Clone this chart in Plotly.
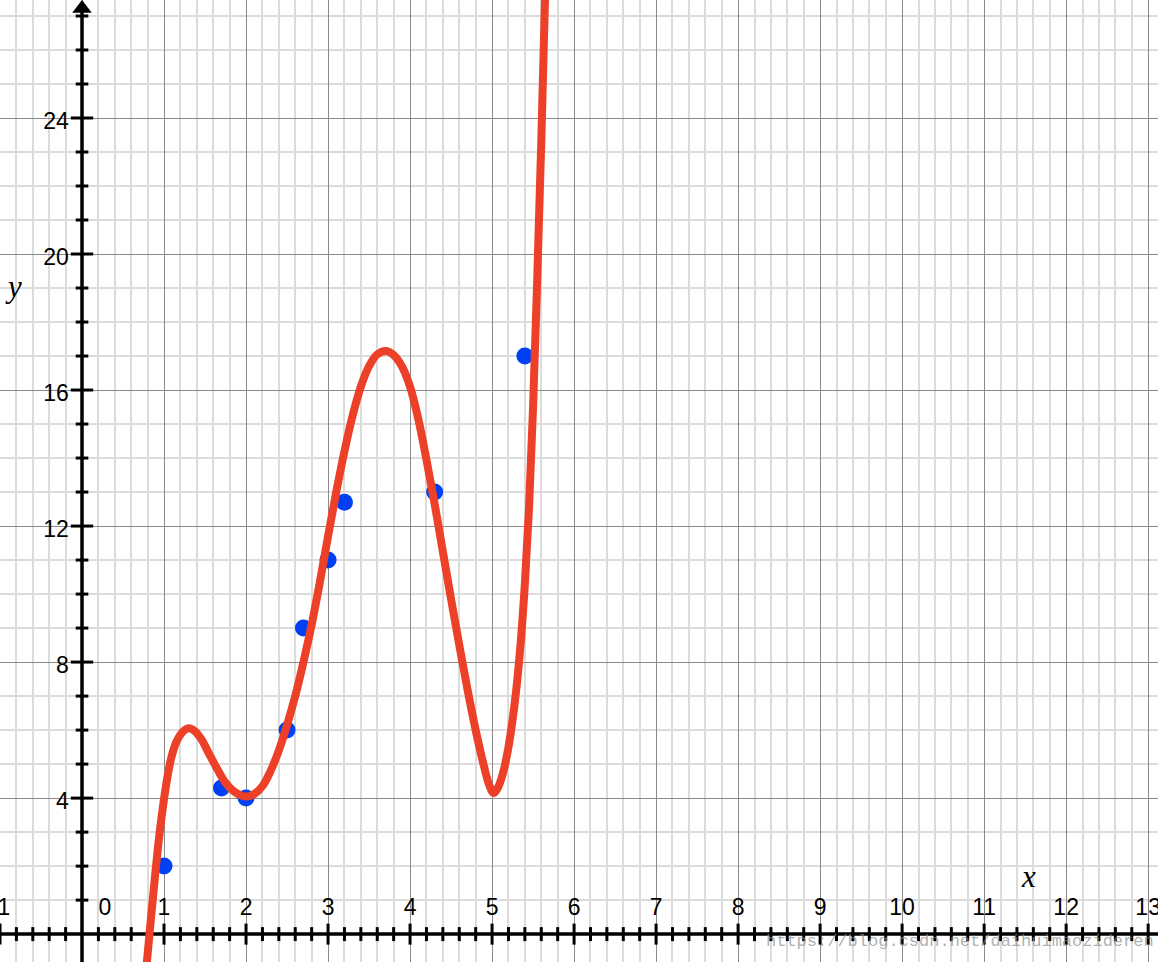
import plotly.graph_objects as go

# ---- data ----
pts_x = [1.0, 1.7, 2.0, 2.5, 2.7, 3.0, 3.2, 4.3, 5.4]
pts_y = [2.0, 4.3, 4.0, 6.0, 9.0, 11.0, 12.7, 13.0, 17.0]

curve_x = [0.79, 0.84, 0.89, 0.94, 0.99, 1.04, 1.09, 1.15, 1.22, 1.29,
           1.36, 1.45, 1.55, 1.65, 1.75, 1.85, 1.95, 2.02, 2.10, 2.20,
           2.30, 2.40, 2.50, 2.60, 2.70, 2.80, 2.90, 3.00, 3.10, 3.20,
           3.30, 3.40, 3.50, 3.60, 3.71, 3.80, 3.90, 4.00, 4.10, 4.20,
           4.30, 4.40, 4.50, 4.60, 4.70, 4.80, 4.90, 4.97, 5.02, 5.08,
           5.14, 5.20, 5.25, 5.30, 5.35, 5.40, 5.45, 5.50, 5.55, 5.60, 5.65]
curve_y = [-0.85, 0.45, 1.7, 2.85, 3.8, 4.6, 5.2, 5.65, 5.93, 6.05,
           6.0, 5.75, 5.3, 4.85, 4.45, 4.2, 4.07, 4.05, 4.12, 4.35,
           4.8, 5.4, 6.15, 7.0, 8.0, 9.1, 10.35, 11.7, 13.0, 14.2,
           15.25, 16.1, 16.7, 17.05, 17.15, 17.03, 16.7, 16.1, 15.15, 13.95,
           12.65, 11.25, 9.85, 8.5, 7.2, 6.0, 4.95, 4.35, 4.15, 4.35,
           4.8, 5.5, 6.3, 7.3, 8.6, 10.3, 12.5, 15.5, 19.2, 23.3, 27.9]

x_tick_labels = [-1, 0, 1, 2, 3, 4, 5, 6, 7, 8, 9, 10, 11, 12, 13]
y_tick_labels = [4, 8, 12, 16, 20, 24]

X_RANGE = [-1.0, 13.12]
Y_RANGE = [-0.82, 27.47]

fig = go.Figure()

# axis lines
fig.add_trace(go.Scatter(x=X_RANGE, y=[0, 0], mode="lines",
                         line=dict(color="black", width=3.5), hoverinfo="skip"))
fig.add_trace(go.Scatter(x=[0, 0], y=[Y_RANGE[0], Y_RANGE[1] - 0.3], mode="lines",
                         line=dict(color="black", width=3.5), hoverinfo="skip"))

# x-axis ticks
minor_x = [i * 0.2 for i in range(-5, 66)]
minor_x = [v for v in minor_x if abs(v - round(v)) > 1e-6]
major_x = [v for v in range(-1, 14) if v != 0]
fig.add_trace(go.Scatter(x=minor_x, y=[0] * len(minor_x), mode="markers",
                         marker=dict(symbol="line-ns", size=10,
                                     line=dict(width=3, color="black")), hoverinfo="skip"))
fig.add_trace(go.Scatter(x=major_x, y=[0] * len(major_x), mode="markers",
                         marker=dict(symbol="line-ns", size=15,
                                     line=dict(width=3, color="black")), hoverinfo="skip"))
# y-axis ticks
minor_y = [v for v in range(1, 28) if v % 4 != 0]
major_y = [v for v in range(4, 28, 4)]
fig.add_trace(go.Scatter(x=[0] * len(minor_y), y=minor_y, mode="markers",
                         marker=dict(symbol="line-ew", size=9,
                                     line=dict(width=3, color="black")), hoverinfo="skip"))
fig.add_trace(go.Scatter(x=[0] * len(major_y), y=major_y, mode="markers",
                         marker=dict(symbol="line-ew", size=16,
                                     line=dict(width=3, color="black")), hoverinfo="skip"))
# arrow head on y axis
fig.add_trace(go.Scatter(x=[0], y=[Y_RANGE[1] - 0.25], mode="markers",
                         marker=dict(symbol="triangle-up", size=17, color="black",
                                     line=dict(width=0)), hoverinfo="skip"))

# tick labels
xl_pos = [v if v != 0 else 0.28 for v in x_tick_labels]
fig.add_trace(go.Scatter(x=xl_pos, y=[0.72] * len(x_tick_labels), mode="text",
                         text=[str(v) for v in x_tick_labels], textposition="middle center",
                         textfont=dict(family="Liberation Sans, Arial", size=23, color="black"),
                         cliponaxis=False, hoverinfo="skip"))
fig.add_trace(go.Scatter(x=[-0.16] * len(y_tick_labels), y=[v - 0.15 for v in y_tick_labels],
                         mode="text", text=[str(v) for v in y_tick_labels],
                         textposition="middle left",
                         textfont=dict(family="Liberation Sans, Arial", size=23, color="black"),
                         hoverinfo="skip"))

# data points
fig.add_trace(go.Scatter(x=pts_x, y=pts_y, mode="markers",
                         marker=dict(size=17, color="#0040F5", line=dict(width=0)),
                         hoverinfo="skip"))
# fitted curve
fig.add_trace(go.Scatter(x=curve_x, y=curve_y, mode="lines",
                         line=dict(color="#EC4128", width=8, shape="spline", smoothing=1.0),
                         hoverinfo="skip"))

fig.add_annotation(x=11.54, y=1.7, text="<i>x</i>", showarrow=False,
                   font=dict(family="Liberation Serif, Times New Roman", size=31, color="black"))
fig.add_annotation(x=-0.83, y=19.05, text="<i>y</i>", showarrow=False,
                   font=dict(family="Liberation Serif, Times New Roman", size=31, color="black"))
fig.add_annotation(xref="paper", yref="y", x=0.998, y=-0.22, xanchor="right",
                   text="https://blog.csdn.net/daihuimaozideren", showarrow=False,
                   font=dict(family="Liberation Mono, DejaVu Sans Mono", size=17,
                             color="rgba(140,140,140,0.7)"))

fig.update_layout(
    width=1158, height=962,
    margin=dict(l=0, r=0, t=0, b=0),
    paper_bgcolor="white", plot_bgcolor="white",
    showlegend=False,
    xaxis=dict(range=X_RANGE, showticklabels=False, ticks="", zeroline=False,
               showgrid=True, tick0=0, dtick=1, gridcolor="#8a8a8a", gridwidth=1,
               minor=dict(tick0=0, dtick=0.2, showgrid=True, gridcolor="#dcdcdc", gridwidth=1.5),
               showline=False, fixedrange=True),
    yaxis=dict(range=Y_RANGE, showticklabels=False, ticks="", zeroline=False,
               showgrid=True, tick0=0, dtick=4, gridcolor="#8a8a8a", gridwidth=1,
               minor=dict(tick0=0, dtick=1, showgrid=True, gridcolor="#dcdcdc", gridwidth=1.5),
               showline=False, fixedrange=True),
)

fig.write_html("out.html", config={"displayModeBar": False},
               post_script="document.body.style.margin='0';document.body.style.overflow='hidden';")
